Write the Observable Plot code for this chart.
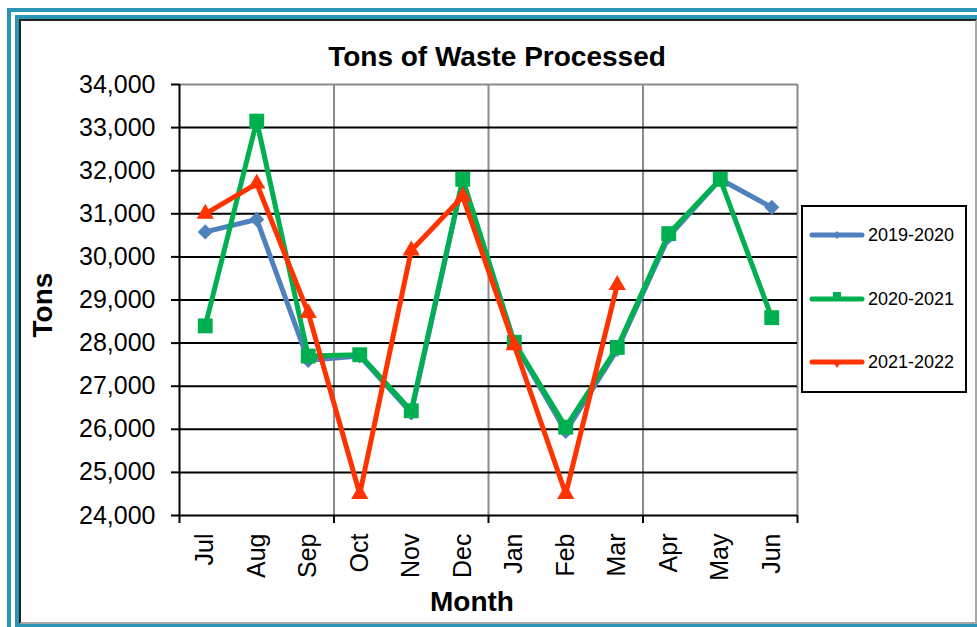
<!DOCTYPE html>
<html>
<head>
<meta charset="utf-8">
<script src="https://cdn.jsdelivr.net/npm/d3@7"></script>
<script src="https://cdn.jsdelivr.net/npm/@observablehq/plot@0.6"></script>
<style>
  html, body { margin: 0; padding: 0; }
  body { width: 977px; height: 627px; overflow: hidden; position: relative; background: #fff; font-family: "Liberation Sans", Arial, sans-serif; }
  .abs { position: absolute; box-sizing: border-box; }
  .teal { border: 4px solid #2b95b5; }
  #chart svg { position: absolute; left: 0; top: 0; }
  .ttl { font-weight: bold; font-size: 28px; line-height: 28px; text-align: center; color: #000; white-space: nowrap; }
  .leg { font-size: 18px; line-height: 18px; color: #000; white-space: nowrap; }
</style>
</head>
<body>
<div class="abs teal" style="left:7px; top:8px; width:1100px; height:800px;"></div>
<div class="abs teal" style="left:15px; top:15px; width:1100px; height:613px;"></div>
<div class="abs" style="left:19px; top:19px; width:958px; height:605px; background:#fff; border-left:2px solid #222; border-top:2px solid #222; border-right:2px solid #a8a8a8; border-bottom:2px solid #a8a8a8;"></div>
<div id="chart" class="abs" style="left:0; top:0; width:977px; height:627px;"></div>
<div class="abs ttl" style="left:297px; top:43px; width:400px;">Tons of Waste Processed</div>
<div class="abs ttl" style="left:372px; top:588px; width:200px;">Month</div>
<div class="abs ttl" style="left:-7px; top:291px; width:100px; height:28px; transform: rotate(-90deg);">Tons</div>
<div id="legend" class="abs" style="left:801px; top:205px; width:166px; height:188px; border:2px solid #000; background:#fff;"></div>
<script>
const months = ["Jul","Aug","Sep","Oct","Nov","Dec","Jan","Feb","Mar","Apr","May","Jun"];
const seriesNames = ["2019-2020","2020-2021","2021-2022"];
const tons2019 = [30580, 30870, 27600, 27700, 26380, 31780, 28000, 25950, 27850, 30470, 31800, 31150];
const tons2020 = [28400, 33150, 27700, 27730, 26430, 31800, 28020, 26050, 27900, 30540, 31800, 28590];
const tons2021 = [31000, 31700, 28700, 24500, 30150, 31400, 27950, 24500, 29350, null, null, null];
const yTicks = [24000, 25000, 26000, 27000, 28000, 29000, 30000, 31000, 32000, 33000, 34000];
const colors = ["#4f81bd", "#00b050", "#ff3300"];
const symbols = ["diamond2", "square", "triangle"];
const radii = [6.8, 8.4, 6.4];

const allSeries = [tons2019, tons2020, tons2021];
const seriesData = allSeries.map((vals, k) =>
  months.map((m, i) => ({month: m, i, series: seriesNames[k], tons: vals[i]})));

const seriesMarks = seriesData.flatMap((rows, k) => [
  Plot.line(rows, {x: d => d.i + 0.5, y: "tons", stroke: colors[k], strokeWidth: 5, strokeLinejoin: "round"}),
  Plot.dot(rows.filter(d => d.tons != null), {x: d => d.i + 0.5, y: "tons", symbol: symbols[k], r: radii[k], fill: colors[k], stroke: "none"})
]);

const chart = Plot.plot({
  width: 977,
  height: 627,
  marginLeft: 179,
  marginRight: 180,
  marginTop: 84,
  marginBottom: 112,
  style: {background: "transparent", fontFamily: "'Liberation Sans', Arial, sans-serif", fontSize: "25px", color: "#000"},
  x: {type: "linear", domain: [0, months.length], axis: null},
  y: {type: "linear", domain: [24000, 34000], axis: null},
  marks: [
    Plot.ruleX([3, 6, 9, 12], {stroke: "#8c8c8c", strokeWidth: 2}),
    Plot.ruleY([34000], {stroke: "#8c8c8c", strokeWidth: 2}),
    Plot.ruleY(yTicks.filter(v => v > 24000 && v < 34000), {stroke: "#000", strokeWidth: 2}),
    Plot.ruleY([24000], {stroke: "#000", strokeWidth: 2}),
    Plot.ruleX([0], {stroke: "#000", strokeWidth: 2}),
    Plot.axisY({ticks: yTicks, tickFormat: d3.format(","), tickSize: 8, tickPadding: 16, strokeWidth: 2, fontSize: 25, label: null}),
    Plot.axisX({ticks: [0, 3, 6, 9, 12], tickSize: 8, tickFormat: () => "", strokeWidth: 2, label: null}),
    Plot.axisX({ticks: months.map((m, i) => i + 0.5), tickFormat: d => months[Math.floor(d)], tickRotate: -90, tickSize: 0, tickPadding: 18, fontSize: 25, label: null}),
    ...seriesMarks
  ]
});
document.getElementById("chart").appendChild(chart);

// legend
const legend = document.getElementById("legend");
const legY = [28, 92, 155];
const symPaths = [
  "M0,-4L4,0L0,4L-4,0Z",
  "M-4,-7L4,-7L4,0L-4,0Z",
  "M-4,0L4,0L0,6Z"
];
seriesNames.forEach((name, k) => {
  const item = document.createElement("div");
  item.className = "abs";
  item.style.left = "6px";
  item.style.top = (legY[k] - 10) + "px";
  item.style.width = "160px";
  item.style.height = "20px";
  item.innerHTML =
    `<svg width="56" height="20" style="position:absolute;left:0;top:0">` +
    `<line x1="3" x2="53" y1="10" y2="10" stroke="${colors[k]}" stroke-width="5" stroke-linecap="round"/>` +
    `<path transform="translate(28,10)" d="${symPaths[k]}" fill="${colors[k]}"/></svg>` +
    `<span class="leg" style="position:absolute;left:59px;top:1px">${name}</span>`;
  legend.appendChild(item);
});
</script>
</body>
</html>
